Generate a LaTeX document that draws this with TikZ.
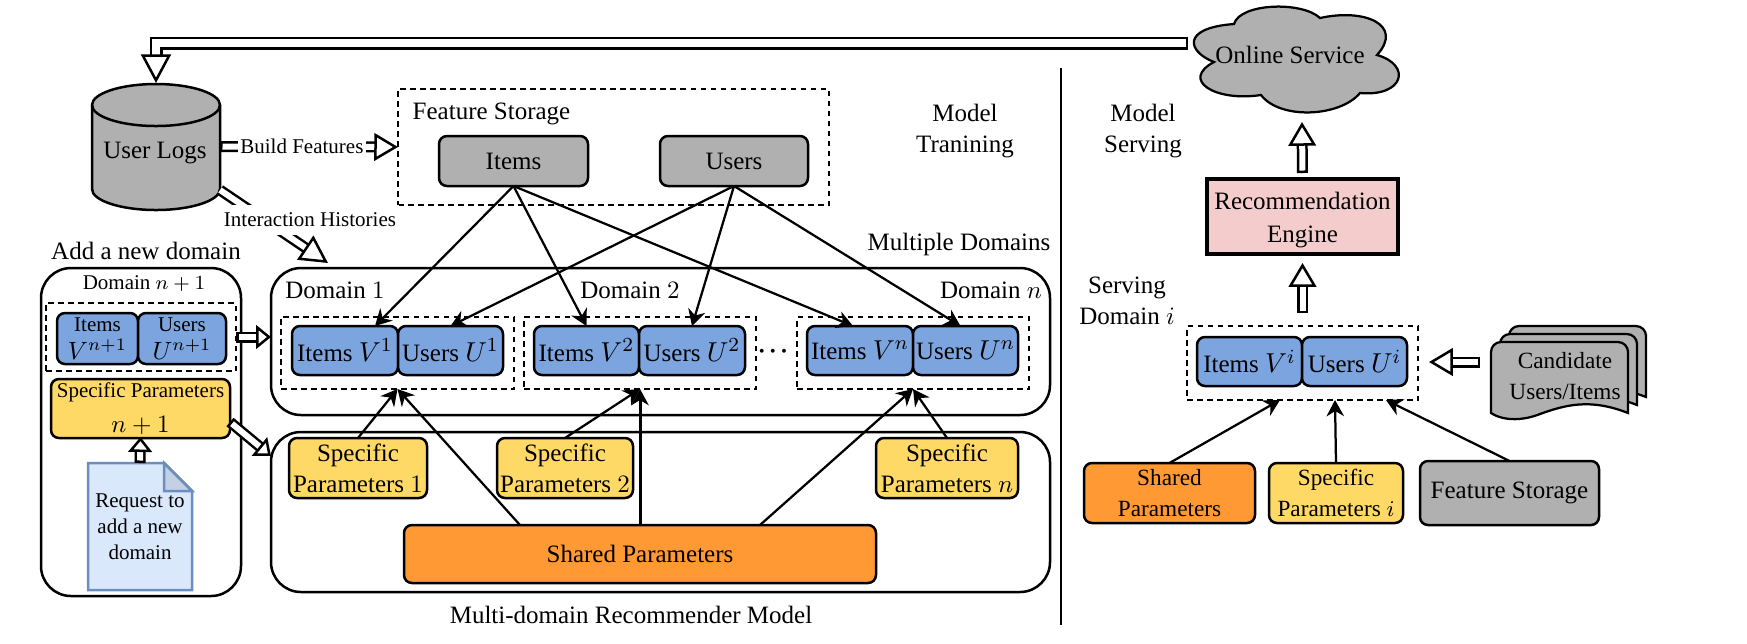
\documentclass[tikz,border=0pt]{standalone}
\usepackage[no-math]{fontspec}
\setmainfont{Liberation Serif}
\usepackage{amsmath,amsfonts,amssymb}
\usetikzlibrary{arrows.meta}
\definecolor{graybox}{HTML}{B0B0B0}
\definecolor{bluebox}{HTML}{7CA4DE}
\definecolor{yellowbox}{HTML}{FFD966}
\definecolor{orangebox}{HTML}{FF9933}
\definecolor{pinkbox}{HTML}{F4CCCC}
\definecolor{docfill}{HTML}{DAE8FC}
\definecolor{docline}{HTML}{6C8EBF}
\definecolor{docfold}{HTML}{C4D0E4}
\newcommand{\smalltext}{\fontsize{8.4}{10.4}\selectfont}
\newcommand{\midtext}{\fontsize{9.3}{12.4}\selectfont}
\newcommand{\maintext}{\fontsize{10}{12.4}\selectfont}
\newcommand{\mathtxt}[1]{{\fontsize{10.95}{12.4}\selectfont$#1$}}

\begin{document}
\begin{tikzpicture}[x=0.4pt,y=0.4pt,wh/.style 2 args={minimum width=#1*0.4pt,minimum height=#2*0.4pt}]
\tikzstyle{every node}+=[inner sep=0pt,outer sep=0pt,align=center,font=\maintext]
\tikzstyle{box}=[draw,line width=1pt,rounded corners=3.2pt]
\tikzstyle{panel}=[draw,line width=1pt,rounded corners=12pt]
\tikzstyle{dashbox}=[draw,line width=1pt,dash pattern=on 2.2pt off 1.8pt]
\tikzstyle{link}=[line width=0.9pt,-{Stealth[length=6.5pt,width=7pt]}]
\tikzstyle{hollow}=[line width=1pt,double=white,double distance=2.4pt,{Bar[width=4.4pt,line width=1pt]}-{Triangle[open,fill=white,length=9.5pt,width=11pt,line width=1pt]}]
\tikzstyle{hollowshort}=[hollow,{Bar[width=4.4pt,line width=1pt]}-{Triangle[open,fill=white,length=6pt,width=9.5pt,line width=1pt]}]
\useasboundingbox (0,0) rectangle (1747,-643);
% left side
\node [wh={128}{127}] (logs) at (156,-146.5) {};
\draw [fill=graybox,line width=1pt] (92,-105) arc (180:0:64 and 21) -- (220,-189) arc (360:180:64 and 21) -- cycle;
\draw [line width=1pt] (92,-105) arc (180:360:64 and 21);
\node (logstext) at (155,-153) {User Logs};
\node [dashbox,wh={431}{116}] (store) at (613.5,-147) {};
\node (storetext) at (491.5,-114) {Feature Storage};
\node [box,fill=graybox,wh={149}{50}] (items) at (513.5,-161) {Items};
\node [box,fill=graybox,wh={148}{50}] (users) at (734,-161) {Users};
\node (training) at (965,-131) {Model\\Tranining};
\node (multi) at (959,-244) {Multiple Domains};
\node (addnew) at (146,-251) {Add a new domain};
\node [panel,wh={200}{328}] (addpanel) at (141,-432) {};
\node [panel,wh={779}{147}] (domains) at (660.5,-341.5) {};
\node [panel,wh={779}{160}] (model) at (660.5,-512) {};
\node (modeltext) at (631,-615) {Multi-domain Recommender Model};
\node [font=\smalltext] (dnew) at (144,-284) {Domain $n+1$};
\node (done) at (335,-290) {Domain $1$};
\node (dtwo) at (630,-290) {Domain $2$};
\node (dlast) at (991,-290) {Domain $n$};
\node [dashbox,wh={190}{68}] (dashnew) at (141,-337) {};
\node [dashbox,wh={233}{72}] (dasha) at (397.5,-353) {};
\node [dashbox,wh={232}{72}] (dashb) at (640,-353) {};
\node [dashbox,wh={232}{72}] (dashc) at (913,-353) {};
\node (dots) at (773,-352) {{\boldmath$\mathord{\cdot}\mkern2mu\mathord{\cdot}\mkern2mu\mathord{\cdot}$}};
\node [box,fill=bluebox,font=\smalltext,wh={81}{51}] (itemsnew) at (97.5,-338.5) {Items\\[1pt]{\maintext$V^{n+1}$}};
\node [box,fill=bluebox,font=\smalltext,wh={88}{51}] (usersnew) at (182,-338.5) {Users\\[1pt]{\maintext$U^{n+1}$}};
\node [box,fill=bluebox,wh={106}{49}] (itemsa) at (345,-350.5) {Items \mathtxt{V^1}};
\node [box,fill=bluebox,wh={105}{49}] (usersa) at (450.5,-350.5) {Users \mathtxt{U^1}};
\node [box,fill=bluebox,wh={105}{49}] (itemsb) at (586.5,-350.5) {Items \mathtxt{V^2}};
\node [box,fill=bluebox,wh={106}{49}] (usersb) at (692,-350.5) {Users \mathtxt{U^2}};
\node [box,fill=bluebox,wh={106}{49}] (itemsc) at (860,-350.5) {Items \mathtxt{V^n}};
\node [box,fill=bluebox,wh={105}{49}] (usersc) at (965.5,-350.5) {Users \mathtxt{U^n}};
\node [box,fill=yellowbox,wh={179}{59}] (specnew) at (140.5,-408.5) {{\smalltext Specific Parameters}\\[1.6pt]$n+1$};
\node [box,fill=yellowbox,wh={138}{60}] (speca) at (358,-468) {Specific\\Parameters $1$};
\node [box,fill=yellowbox,wh={136}{60}] (specb) at (565,-468) {Specific\\Parameters $2$};
\node [box,fill=yellowbox,wh={142}{60}] (specc) at (947,-468) {Specific\\Parameters $n$};
\node [box,fill=orangebox,wh={472}{58}] (shared) at (640,-554) {Shared Parameters};
\node [wh={104}{127}] (request) at (140,-526.5) {};
\draw [docline,fill=docfill,line width=1pt] (request.north west) -- ([xshift=-11.2pt]request.north east) -- ([yshift=-11.2pt]request.north east) -- (request.south east) -- (request.south west) -- cycle;
\draw [docline,fill=docfold,line width=1pt] ([xshift=-11.2pt]request.north east) -- ([xshift=-11.2pt,yshift=-11.2pt]request.north east) -- ([yshift=-11.2pt]request.north east) -- cycle;
\node [font=\smalltext] (requesttext) at (140,-527) {Request to\\add a new\\domain};
% connectors on the left
\coordinate (feedback) at (1188,-43);
\draw [hollow,double distance=3.2pt,{Bar[width=5.2pt,line width=1pt]}-{Triangle[open,fill=white,length=11.5pt,width=12pt,line width=1pt]}] (feedback) -| (logs.north);
\draw [hollow] (logs.east) -- node [pos=0.46,fill=white,font=\smalltext,inner xsep=1pt,inner ysep=3pt] (buildtext) {Build Features} (store.west);
\coordinate (logsout) at (220,-190);
\coordinate (domainsin) at (328,-263);
\draw [hollow,-{Triangle[open,fill=white,length=11pt,width=11.5pt,line width=1pt]}] (logsout) -- (domainsin);
\node [fill=white,font=\smalltext,inner xsep=1pt,inner ysep=3pt] (historytext) at (310,-220) {Interaction Histories};
\draw [hollowshort] (dashnew.east) -- (domains.west |- dashnew.east);
\coordinate (specout) at (230,-422);
\coordinate (modelin) at (271,-456);
\draw [hollowshort] (specout) -- (modelin);
\draw [hollowshort] (request.north) -- ([yshift=0.4pt]specnew.south);
\draw [link] (items.south) -- ([xshift=12pt]itemsa.north);
\draw [link] (items.south) -- (itemsb.north);
\draw [link] (items.south) -- ([xshift=-2.8pt]itemsc.north);
\draw [link] (users.south) -- (usersa.north);
\draw [link] (users.south) -- (usersb.north);
\draw [link] (users.south) -- ([xshift=-2pt]usersc.north);
\draw [link] (speca.north) -- (dasha.south);
\draw [link] (specb.north) -- (dashb.south);
\draw [link] (specc.north) -- (dashc.south);
\draw [link] ([xshift=-48pt]shared.north) -- (dasha.south);
\draw [link,line width=1.2pt] (shared.north) -- (dashb.south);
\draw [link] ([xshift=48pt]shared.north) -- (dashc.south);
% divider
\coordinate (divtop) at (1061,-68);
\coordinate (divbottom) at (1061,-625);
\draw [line width=1.1pt] (divtop) -- (divbottom);
% right side
\draw [fill=graybox,line width=0.9pt] (1214,-62) .. controls (1188,-52) and (1180,-28) .. (1234,-24) .. controls (1240,-3) and (1302,-1) .. (1320,-18) .. controls (1365,-8) and (1404,-25) .. (1377,-55) .. controls (1412,-65) and (1404,-97) .. (1360,-93) .. controls (1340,-117) and (1280,-120) .. (1261,-95) .. controls (1215,-102) and (1180,-80) .. (1214,-62) -- cycle;
\node (online) at (1290,-55) {Online Service};
\coordinate (cloudin) at (1302,-122);
\node (serving) at (1143,-131) {Model\\Serving};
\node [draw,fill=pinkbox,line width=1.5pt,wh={191}{75}] (engine) at (1302.5,-216.5) {};
\node (enginetext) at (1302.5,-220) {Recommendation\\[0.6pt]Engine};
\node (servingi) at (1127,-301) {Serving\\Domain $i$};
\node [dashbox,wh={231}{74}] (dashr) at (1302.5,-363) {};
\node [box,fill=bluebox,wh={105}{49}] (itemsr) at (1249.5,-361.5) {Items \mathtxt{V^i}};
\node [box,fill=bluebox,wh={105}{49}] (usersr) at (1354.5,-361.5) {Users \mathtxt{U^i}};
\foreach \k in {2,1,0}
  \draw [fill=graybox,line width=0.9pt,shift={(9*\k,8*\k)}] (1491,-413) -- (1491,-360) [rounded corners=4pt] -- (1491,-342) -- (1628,-342) -- (1628,-360) [sharp corners] -- (1628,-413) .. controls (1590,-398) and (1565,-405) .. (1540,-414) .. controls (1525,-420) and (1505,-422) .. (1491,-413) -- cycle;
\node [font=\midtext] (candidate) at (1565,-376.5) {Candidate\\Users/Items};
\node [box,fill=orangebox,font=\midtext,wh={171}{60}] (sharedr) at (1169.5,-493) {Shared\\Parameters};
\node [box,fill=yellowbox,font=\midtext,wh={134}{60}] (specr) at (1336,-493) {Specific\\Parameters $i$};
\node [box,fill=graybox,wh={179}{64}] (featr) at (1509.5,-493) {Feature Storage};
\draw [hollow,shorten <=2.4pt] (engine.north) -- (cloudin);
\draw [hollow,shorten <=5.2pt,shorten >=3.6pt] (dashr.north) -- (engine.south);
\coordinate (candout) at (1480,-362);
\draw [hollow,shorten >=4.4pt] (candout) -- (dashr.east |- candout);
\draw [link] (sharedr.north) -- ([xshift=-9pt]dashr.south);
\draw [link] (specr.north) -- ([xshift=13pt]dashr.south);
\draw [link] (featr.north) -- ([xshift=33.4pt]dashr.south);
\end{tikzpicture}
\end{document}
